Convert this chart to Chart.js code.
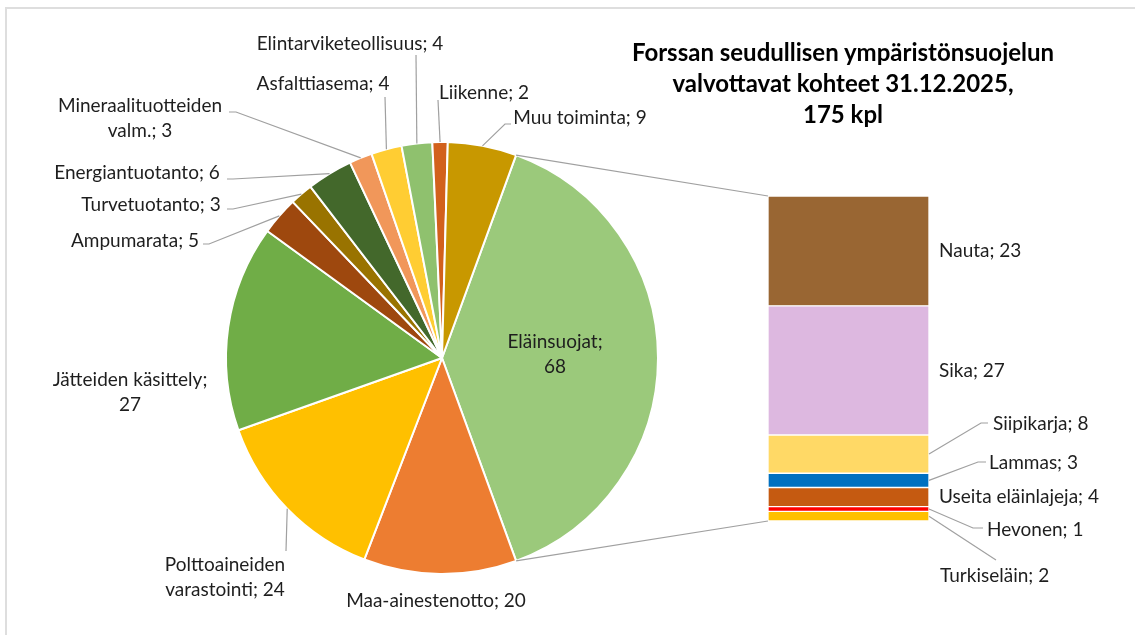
<!DOCTYPE html>
<html lang="fi">
<head>
    <meta charset="UTF-8">
    <title>Forssan seudullisen ympäristönsuojelun valvottavat kohteet</title>
    <script src="https://cdn.jsdelivr.net/npm/chart.js"></script>
    <style>
        body { margin: 0; background: #fff; }
        #wrap { position: relative; width: 1135px; height: 635px; overflow: hidden; }
        #wrap canvas { position: absolute; left: 0; top: 0; }
        #frame { position: absolute; left: 5px; top: 7px; right: -5px; bottom: -5px; border-left: 2px solid #dedede; border-top: 2px solid #dedede; }
        #title { position: absolute; left: 593px; top: 36px; width: 500px; text-align: center;
                 font: bold 24px Lato, "Open Sans", sans-serif; line-height: 31px; color: #000; }
    </style>
</head>
<body>
<div id="wrap">
    <div id="frame"></div>
    <canvas id="pieChart" width="1135" height="635"></canvas>
    <canvas id="barChart" width="1135" height="635"></canvas>
    <div id="title">Forssan seudullisen ympäristönsuojelun<br>valvottavat kohteet 31.12.2025,<br>175 kpl</div>
</div>

<script>
    // pie: all sites by type (first slice is split out into the bar)
    const pieLabels = ['Eläinsuojat', 'Maa-ainestenotto', 'Polttoaineiden varastointi', 'Jätteiden käsittely',
        'Ampumarata', 'Turvetuotanto', 'Energiantuotanto', 'Mineraalituotteiden valm.', 'Asfalttiasema',
        'Elintarviketeollisuus', 'Liikenne', 'Muu toiminta'];
    const pieValues = [68, 20, 24, 27, 5, 3, 6, 3, 4, 4, 2, 9];
    const pieColors = ['#9bc97b', '#ed7d31', '#ffc000', '#70ad47', '#9e480e', '#997300', '#43682b',
        '#f1975a', '#ffcd33', '#8fc16e', '#d2611c', '#c89800'];

    // bar: Eläinsuojat by animal, bottom to top
    const barLabels = ['Turkiseläin', 'Hevonen', 'Useita eläinlajeja', 'Lammas', 'Siipikarja', 'Sika', 'Nauta'];
    const barValues = [2, 1, 4, 3, 8, 27, 23];
    const barColors = ['#ffc000', '#ff0000', '#c55a11', '#0070c0', '#ffd966', '#ddb8e0', '#996633'];

    const FONT = '19px Lato, "Open Sans", sans-serif';
    const TEXT = '#1e1e1e';
    const LEADER = '#a0a0a0';

    // label placement (text centre, wrap, leader elbow [x, y, tailX])
    const pieLayout = [
        { x: 555, y: 342, wrap: 'last' },
        { x: 436, y: 601 },
        { x: 225, y: 565, wrap: 'first', leader: [286, 551, 286] },
        { x: 130, y: 380, wrap: 'last' },
        { x: 135, y: 241, leader: [209, 244, 203] },
        { x: 151, y: 205, leader: [233, 209, 227] },
        { x: 137, y: 173, leader: [233, 179, 227] },
        { x: 140, y: 106, wrap: 'first', leader: [236, 112, 229] },
        { x: 323, y: 84, leader: [385, 97, 385] },
        { x: 350, y: 44, leader: [416, 55, 416] },
        { x: 484, y: 93, leader: [438, 100, 438] },
        { x: 580, y: 118, leader: [505, 124, 511] }
    ];
    // bar labels: null = default spot right of the segment; else text left x, y and leader
    const barLayout = [
        { x: 940, y: 576, leader: [996, 560, 996] },
        { x: 987, y: 530, leader: [973, 528, 983] },
        null,
        { x: 989, y: 463, leader: [978, 462, 986] },
        { x: 993, y: 424, leader: [981, 423, 988] },
        null,
        null
    ];

    function splitLabel(txt, wrap) {
        if (wrap === 'first') { const i = txt.indexOf(' '); return [txt.slice(0, i), txt.slice(i + 1)]; }
        if (wrap === 'last') { const i = txt.lastIndexOf(' '); return [txt.slice(0, i), txt.slice(i + 1)]; }
        return [txt];
    }

    function line(ctx, pts) {
        ctx.beginPath();
        ctx.moveTo(pts[0][0], pts[0][1]);
        for (let k = 1; k < pts.length; k++) ctx.lineTo(pts[k][0], pts[k][1]);
        ctx.stroke();
    }

    const pieLabelPlugin = {
        id: 'pieLabels',
        afterDraw(chart) {
            const ctx = chart.ctx;
            const meta = chart.getDatasetMeta(0);
            ctx.save();
            ctx.font = FONT;
            ctx.fillStyle = TEXT;
            ctx.strokeStyle = LEADER;
            ctx.lineWidth = 1.2;
            ctx.textAlign = 'center';
            ctx.textBaseline = 'middle';
            meta.data.forEach((arc, i) => {
                const p = arc.getProps(['x', 'y', 'startAngle', 'endAngle', 'outerRadius'], true);
                const mid = (p.startAngle + p.endAngle) / 2;
                const ex = p.x + Math.cos(mid) * p.outerRadius;
                const ey = p.y + Math.sin(mid) * p.outerRadius;
                const L = pieLayout[i];
                if (L.leader) line(ctx, [[ex, ey], [L.leader[0], L.leader[1]], [L.leader[2], L.leader[1]]]);
                const lines = splitLabel(pieLabels[i] + '; ' + pieValues[i], L.wrap);
                lines.forEach((t, k) => ctx.fillText(t, L.x, L.y + k * 25));
            });
            ctx.restore();
        }
    };

    const pieChart = new Chart(document.getElementById('pieChart'), {
        type: 'pie',
        data: {
            labels: pieLabels,
            datasets: [{
                data: pieValues,
                backgroundColor: pieColors,
                borderColor: '#ffffff',
                borderWidth: 2
            }]
        },
        options: {
            responsive: false,
            animation: false,
            devicePixelRatio: 1,
            rotation: 90 - pieValues[0] / pieValues.reduce((a, b) => a + b, 0) * 180,
            radius: 216,
            layout: { padding: { left: 226, top: 142, right: 477, bottom: 61 } },
            plugins: { legend: { display: false }, tooltip: { enabled: false } }
        },
        plugins: [pieLabelPlugin]
    });

    const barLabelPlugin = {
        id: 'barLabels',
        afterDraw(chart) {
            const ctx = chart.ctx;
            ctx.save();
            ctx.strokeStyle = LEADER;
            ctx.lineWidth = 1.2;

            // connectors from the split slice to the bar
            const arc = pieChart.getDatasetMeta(0).data[0].getProps(['x', 'y', 'startAngle', 'endAngle', 'outerRadius'], true);
            const top = chart.getDatasetMeta(barValues.length - 1).data[0];
            const bottom = chart.getDatasetMeta(0).data[0];
            const left = top.x - top.width / 2;
            line(ctx, [[arc.x + Math.cos(arc.startAngle) * arc.outerRadius, arc.y + Math.sin(arc.startAngle) * arc.outerRadius], [left, top.y]]);
            line(ctx, [[arc.x + Math.cos(arc.endAngle) * arc.outerRadius, arc.y + Math.sin(arc.endAngle) * arc.outerRadius], [left, bottom.base]]);

            ctx.font = FONT;
            ctx.fillStyle = TEXT;
            ctx.textAlign = 'left';
            ctx.textBaseline = 'middle';
            barValues.forEach((v, i) => {
                const bar = chart.getDatasetMeta(i).data[0];
                const right = bar.x + bar.width / 2;
                const cy = (bar.y + bar.base) / 2;
                const L = barLayout[i];
                const txt = barLabels[i] + '; ' + v;
                if (!L) { ctx.fillText(txt, right + 10, cy); return; }
                line(ctx, [[right, cy], [L.leader[0], L.leader[1]], [L.leader[2], L.leader[1]]]);
                ctx.fillText(txt, L.x, L.y);
            });
            ctx.restore();
        }
    };

    new Chart(document.getElementById('barChart'), {
        type: 'bar',
        data: {
            labels: ['Eläinsuojat'],
            datasets: barLabels.map((name, i) => ({
                label: name,
                data: [barValues[i]],
                backgroundColor: barColors[i],
                borderColor: '#ffffff',
                borderWidth: 1,
                borderSkipped: false,
                barPercentage: 1,
                categoryPercentage: 1
            }))
        },
        options: {
            responsive: false,
            animation: false,
            devicePixelRatio: 1,
            layout: { padding: { left: 768, top: 196, right: 206, bottom: 114 } },
            scales: {
                x: { stacked: true, display: false },
                y: { stacked: true, display: false, min: 0, max: barValues.reduce((a, b) => a + b, 0) }
            },
            plugins: { legend: { display: false }, tooltip: { enabled: false } }
        },
        plugins: [barLabelPlugin]
    });
</script>
</body>
</html>
